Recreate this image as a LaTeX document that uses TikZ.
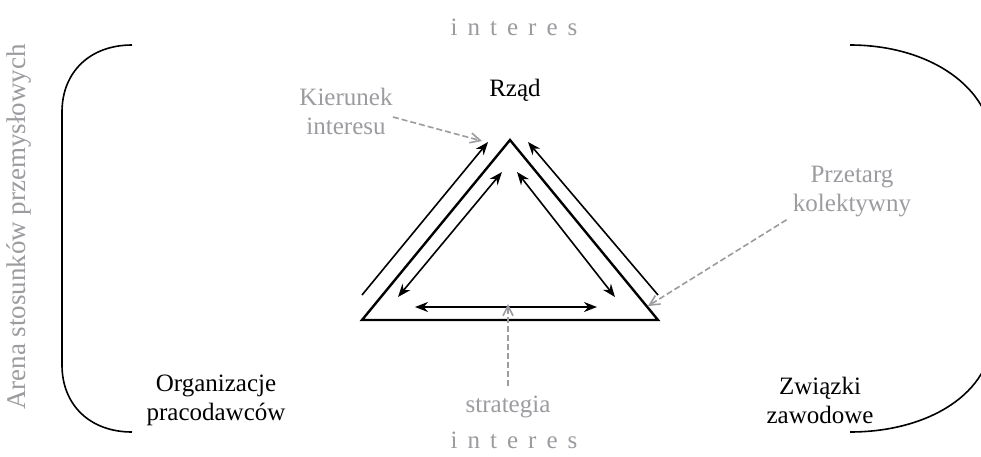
\documentclass[tikz,border=0pt]{standalone}
\usepackage{fontspec}
\setmainfont{Liberation Serif}
\newfontfamily\spacedfont[LetterSpace=40]{Liberation Serif}
\usepackage{xcolor}
\usepackage{tikz}
\usetikzlibrary{arrows.meta,positioning,calc}

\definecolor{labelgray}{RGB}{155,155,160}
\tikzset{
  blacklabel/.style={align=center, inner sep=0pt, font=\fontsize{12.5}{14.5}\selectfont},
  graylabel/.style={blacklabel, text=labelgray},
  spacedlabel/.style={graylabel, font=\spacedfont\fontsize{12.5}{14.5}\selectfont},
  flow/.style={line width=0.8pt, -{Stealth[length=6.5pt,width=5pt]}},
  twoway/.style={line width=0.8pt, {Stealth[length=6.5pt,width=5pt]}-{Stealth[length=6.5pt,width=5pt]}},
  pointer/.style={labelgray, line width=0.8pt, dash pattern=on 3pt off 1.5pt, -{Straight Barb[length=5pt,width=5pt]}},
}

\begin{document}
\begin{tikzpicture}[x=0.5pt, y=-0.5pt]
    \useasboundingbox (0,0) rectangle (981,456);
    \clip (0,0) rectangle (981,456);

    % Arena (brackets)
    \draw[line width=0.8pt] (132,45) .. controls (90,45) and (62,72) .. (62,112) -- (62,365) .. controls (62,405) and (90,432) .. (132,432);
    \draw[line width=0.8pt] (850,45) .. controls (930,45) and (992,88) .. (992,145) -- (992,335) .. controls (992,392) and (930,432) .. (850,432);
    \node[graylabel, rotate=90, font=\fontsize{13.5}{15}\selectfont] (arena) at (19,227) {Arena stosunków przemysłowych};
    \node[spacedlabel] (intertop) at (514,27) {interes};
    \node[spacedlabel] (interbot) at (514,440) {interes};

    % Triangle
    \coordinate (apex) at (510,140);
    \coordinate (left) at (362,320);
    \coordinate (right) at (658,320);
    \draw[line width=1.2pt] (left) -- (apex) -- (right) -- cycle;

    % Outer arrows
    \coordinate (lout1) at (362,295);
    \coordinate (lout2) at (488,142);
    \coordinate (rout1) at (658,295);
    \coordinate (rout2) at (528,142);
    \draw[flow] (lout1) -- (lout2);
    \draw[flow] (rout1) -- (rout2);

    % Inner arrows
    \coordinate (lin1) at (398,297);
    \coordinate (lin2) at (502,172);
    \coordinate (rin1) at (615,297);
    \coordinate (rin2) at (517,172);
    \coordinate (bin1) at (415,307);
    \coordinate (bin2) at (597,307);
    \draw[twoway] (lin1) -- (lin2);
    \draw[twoway] (rin1) -- (rin2);
    \draw[twoway] (bin1) -- (bin2);

    % Actors
    \node[blacklabel] (rzad) at (515,90) {Rząd};
    \node[blacklabel] (pracodawcy) at (216,400) {Organizacje\\pracodawców};
    \node[blacklabel] (zwiazki) at (820,400) {Związki\\zawodowe};

    % Labels
    \node[graylabel] (kierunek) at (346,111) {Kierunek\\interesu};
    \node[graylabel] (przetarg) at (852,192) {Przetarg\\kolektywny};
    \node[graylabel] (strategia) at (508,407) {strategia};
    \coordinate (kierTip) at (482,141);
    \coordinate (przeTip) at (648,306);
    \coordinate (stratTip) at (508,304);
    \draw[pointer] ([yshift=-3pt]kierunek.east) -- (kierTip);
    \draw[pointer] ([shift={(-3pt,-1pt)}]przetarg.south west) -- (przeTip);
    \draw[pointer] ([yshift=5pt]strategia.north) -- (stratTip);
\end{tikzpicture}
\end{document}
